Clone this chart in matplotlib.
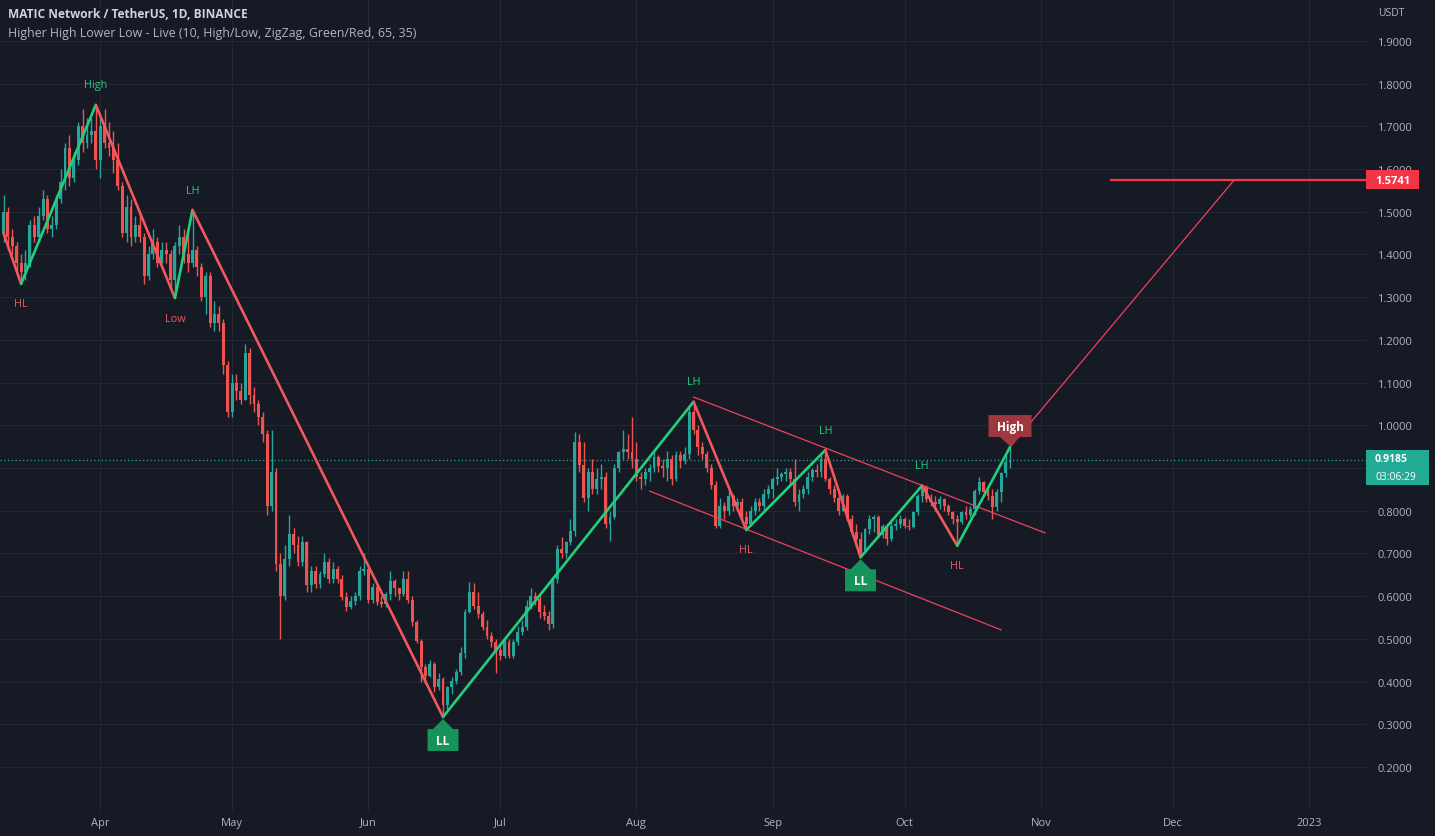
import matplotlib
matplotlib.use("Agg")
import matplotlib.pyplot as plt
import matplotlib.dates as mdates
from matplotlib.transforms import offset_copy, IdentityTransform
from matplotlib.patches import Rectangle, Polygon
import numpy as np
import pandas as pd

plt.rcParams['font.family'] = ['Open Sans', 'Noto Sans', 'DejaVu Sans']

# daily MATICUSDT candles, 2022-03-10 .. 2022-10-25 (open = previous close)
first_open = 1.45
closes = [1.50, 1.44, 1.42, 1.38, 1.36, 1.38, 1.47, 1.44, 1.49, 1.53,
          1.46, 1.47, 1.53, 1.57, 1.65, 1.58, 1.62, 1.70, 1.66, 1.68,
          1.69, 1.62, 1.70, 1.66, 1.65, 1.62, 1.56, 1.45, 1.51, 1.44,
          1.47, 1.44, 1.35, 1.40, 1.43, 1.38, 1.41, 1.40, 1.34, 1.42,
          1.44, 1.40, 1.38, 1.41, 1.37, 1.30, 1.35, 1.24, 1.26, 1.24,
          1.14, 1.03, 1.10, 1.08, 1.06, 1.17, 1.07, 1.05, 1.02, 0.98,
          0.81, 0.89, 0.675, 0.60, 0.687, 0.745, 0.72, 0.68, 0.726, 0.625,
          0.66, 0.628, 0.652, 0.68, 0.64, 0.664, 0.64, 0.597, 0.574, 0.589,
          0.60, 0.66, 0.664, 0.59, 0.621, 0.586, 0.582, 0.605, 0.636, 0.62,
          0.605, 0.64, 0.59, 0.539, 0.496, 0.433, 0.414, 0.441, 0.387, 0.406,
          0.344, 0.387, 0.402, 0.422, 0.468, 0.562, 0.609, 0.578, 0.558, 0.527,
          0.507, 0.492, 0.475, 0.461, 0.492, 0.461, 0.492, 0.515, 0.527, 0.578,
          0.601, 0.593, 0.562, 0.554, 0.535, 0.64, 0.71, 0.70, 0.726, 0.753,
          0.96, 0.906, 0.83, 0.89, 0.85, 0.874, 0.88, 0.77, 0.785, 0.90,
          0.937, 0.945, 0.937, 0.92, 0.88, 0.875, 0.89, 0.90, 0.925, 0.905,
          0.90, 0.92, 0.874, 0.93, 0.917, 0.933, 1.03, 0.99, 0.95, 0.933,
          0.90, 0.86, 0.765, 0.81, 0.80, 0.835, 0.81, 0.82, 0.785, 0.77,
          0.80, 0.82, 0.81, 0.84, 0.85, 0.875, 0.88, 0.886, 0.89, 0.875,
          0.82, 0.84, 0.85, 0.88, 0.895, 0.89, 0.92, 0.875, 0.85, 0.83,
          0.80, 0.835, 0.78, 0.75, 0.734, 0.70, 0.757, 0.78, 0.785, 0.742,
          0.765, 0.734, 0.765, 0.77, 0.78, 0.765, 0.762, 0.796, 0.835, 0.855,
          0.828, 0.82, 0.816, 0.828, 0.812, 0.796, 0.78, 0.773, 0.796, 0.789,
          0.804, 0.847, 0.867, 0.843, 0.835, 0.808, 0.843, 0.8875, 0.914, 0.9185]
highs = [1.54, 1.51, 1.46, 1.43, 1.40, 1.41, 1.48, 1.49, 1.51, 1.55,
         1.54, 1.49, 1.54, 1.60, 1.66, 1.68, 1.64, 1.71, 1.74, 1.72,
         1.72, 1.75, 1.72, 1.74, 1.71, 1.69, 1.66, 1.57, 1.54, 1.53,
         1.49, 1.50, 1.45, 1.42, 1.46, 1.44, 1.43, 1.43, 1.41, 1.43,
         1.47, 1.46, 1.45, 1.504, 1.42, 1.38, 1.36, 1.36, 1.29, 1.28,
         1.25, 1.15, 1.12, 1.12, 1.10, 1.19, 1.18, 1.09, 1.06, 1.03,
         0.99, 0.99, 0.90, 0.70, 0.72, 0.79, 0.76, 0.74, 0.74, 0.73,
         0.67, 0.67, 0.66, 0.70, 0.69, 0.68, 0.67, 0.65, 0.61, 0.60,
         0.61, 0.67, 0.70, 0.67, 0.63, 0.63, 0.60, 0.61, 0.66, 0.64,
         0.62, 0.66, 0.66, 0.60, 0.545, 0.50, 0.44, 0.45, 0.445, 0.42,
         0.41, 0.39, 0.41, 0.43, 0.48, 0.57, 0.633, 0.63, 0.61, 0.565,
         0.545, 0.515, 0.50, 0.49, 0.50, 0.50, 0.50, 0.53, 0.545, 0.59,
         0.62, 0.61, 0.60, 0.58, 0.565, 0.645, 0.72, 0.738, 0.73, 0.78,
         0.985, 0.98, 0.96, 0.90, 0.92, 0.90, 0.91, 0.89, 0.80, 0.91,
         0.94, 0.99, 0.98, 1.02, 0.96, 0.89, 0.90, 0.91, 0.94, 0.93,
         0.92, 0.94, 0.93, 0.94, 0.94, 0.95, 1.04, 1.055, 1.00, 0.96,
         0.94, 0.91, 0.87, 0.83, 0.82, 0.85, 0.84, 0.83, 0.83, 0.80,
         0.81, 0.83, 0.83, 0.85, 0.86, 0.88, 0.90, 0.89, 0.90, 0.90,
         0.92, 0.85, 0.86, 0.89, 0.90, 0.91, 0.93, 0.942, 0.88, 0.86,
         0.84, 0.84, 0.84, 0.79, 0.77, 0.75, 0.76, 0.79, 0.79, 0.79,
         0.77, 0.77, 0.78, 0.78, 0.79, 0.785, 0.78, 0.80, 0.84, 0.859,
         0.86, 0.84, 0.835, 0.835, 0.83, 0.815, 0.80, 0.79, 0.80, 0.81,
         0.81, 0.85, 0.88, 0.87, 0.85, 0.85, 0.85, 0.89, 0.93, 0.949]
lows = [1.43, 1.41, 1.40, 1.36, 1.331, 1.34, 1.37, 1.43, 1.43, 1.48,
        1.45, 1.44, 1.46, 1.52, 1.55, 1.56, 1.57, 1.61, 1.64, 1.65,
        1.66, 1.60, 1.58, 1.65, 1.63, 1.59, 1.55, 1.44, 1.43, 1.42,
        1.43, 1.43, 1.33, 1.34, 1.39, 1.37, 1.38, 1.38, 1.32, 1.298,
        1.40, 1.38, 1.36, 1.37, 1.35, 1.29, 1.26, 1.23, 1.22, 1.22,
        1.12, 1.02, 1.02, 1.06, 1.05, 1.06, 1.05, 1.03, 1.00, 0.96,
        0.79, 0.80, 0.66, 0.50, 0.59, 0.67, 0.70, 0.67, 0.67, 0.61,
        0.61, 0.62, 0.62, 0.645, 0.63, 0.63, 0.63, 0.59, 0.565, 0.57,
        0.58, 0.59, 0.65, 0.585, 0.585, 0.58, 0.575, 0.575, 0.59, 0.60,
        0.59, 0.60, 0.585, 0.53, 0.49, 0.40, 0.395, 0.41, 0.375, 0.38,
        0.317, 0.335, 0.37, 0.395, 0.415, 0.455, 0.56, 0.57, 0.55, 0.52,
        0.50, 0.48, 0.42, 0.45, 0.455, 0.455, 0.455, 0.485, 0.51, 0.52,
        0.57, 0.58, 0.55, 0.545, 0.52, 0.525, 0.63, 0.69, 0.69, 0.72,
        0.74, 0.89, 0.82, 0.80, 0.84, 0.84, 0.85, 0.76, 0.73, 0.78,
        0.89, 0.92, 0.92, 0.90, 0.87, 0.85, 0.86, 0.87, 0.89, 0.89,
        0.88, 0.87, 0.86, 0.87, 0.90, 0.91, 0.92, 0.98, 0.93, 0.92,
        0.89, 0.85, 0.76, 0.76, 0.78, 0.79, 0.80, 0.80, 0.78, 0.755,
        0.765, 0.79, 0.80, 0.80, 0.83, 0.83, 0.86, 0.87, 0.87, 0.86,
        0.81, 0.80, 0.83, 0.84, 0.87, 0.88, 0.88, 0.87, 0.84, 0.82,
        0.79, 0.80, 0.775, 0.74, 0.72, 0.691, 0.70, 0.745, 0.75, 0.735,
        0.735, 0.72, 0.73, 0.755, 0.76, 0.76, 0.755, 0.76, 0.79, 0.82,
        0.82, 0.81, 0.80, 0.805, 0.80, 0.79, 0.77, 0.718, 0.77, 0.78,
        0.785, 0.79, 0.84, 0.835, 0.825, 0.78, 0.80, 0.82, 0.88, 0.90]

# zigzag pivots and their labels
pivot_dates = ["2022-03-10", "2022-03-14", "2022-03-31", "2022-04-18", "2022-04-22",
               "2022-06-18", "2022-08-14", "2022-08-26", "2022-09-13", "2022-09-21",
               "2022-10-05", "2022-10-13", "2022-10-25"]
pivot_prices = [1.45, 1.331, 1.75, 1.298, 1.504, 0.317, 1.055, 0.755, 0.942, 0.691,
                0.859, 0.718, 0.949]
pivot_labels = ["", "HL", "High", "Low", "LH", "LL", "LH", "HL", "LH", "LL", "LH", "HL", "High"]
boxed = ["2022-06-18", "2022-09-21", "2022-10-25"]

# channel / projection lines (start date, start price, end date, end price)
upper_line = ["2022-08-14", 1.066, "2022-11-02", 0.748]
lower_line = ["2022-08-04", 0.846, "2022-10-23", 0.521]
proj_line = ["2022-10-25", 0.949, "2022-12-15", 1.5741]
target_start = "2022-11-17"
target_price = 1.5741

month_ticks = ["2022-04-01", "2022-05-01", "2022-06-01", "2022-07-01", "2022-08-01",
               "2022-09-01", "2022-10-01", "2022-11-01", "2022-12-01", "2023-01-01"]
month_labels = ["Apr", "May", "Jun", "Jul", "Aug", "Sep", "Oct", "Nov", "Dec", "2023"]
price_ticks = np.round(np.arange(0.2, 1.95, 0.1), 1)

BG = "#161a25"
GRID = "#232633"
TXT = "#b2b5be"
UP, DOWN = "#26a69a", "#ef5350"
ZG, ZR = "#22cf7e", "#f0585d"

W, H = 1435, 837
fig = plt.figure(figsize=(W / 100, H / 100), dpi=100, facecolor=BG)
ax = fig.add_axes([0, 25 / H, 1366 / W, 812 / H], facecolor=BG)
ax.set_xlim(mdates.datestr2num("2022-03-09") + 0.2, mdates.datestr2num("2023-01-14"))
ax.set_ylim(0.097, 1.998)

d = mdates.date2num(pd.date_range("2022-03-10", periods=len(closes), freq="D"))
c = np.array(closes)
o = np.array([first_open] + closes[:-1])
hi = np.maximum(np.array(highs), np.maximum(o, c))
lo = np.minimum(np.array(lows), np.minimum(o, c))
col = np.where(c >= o, UP, DOWN)

ax.vlines(d, lo, hi, colors=col, linewidth=1, zorder=3)
ax.bar(d, np.maximum(np.abs(c - o), 0.003), bottom=np.minimum(o, c), width=0.66,
       color=col, linewidth=0, zorder=4)

# current price line
ax.axhline(closes[-1], color=UP, lw=0.9, ls=(0, (1, 2)), zorder=2)

# channel lines
for ln in (upper_line, lower_line, proj_line):
    ax.plot(mdates.datestr2num([ln[0], ln[2]]), [ln[1], ln[3]], color="#f0425a", lw=0.9, zorder=5)
ax.plot([mdates.datestr2num(target_start), mdates.datestr2num("2023-02-01")],
        [target_price, target_price], color="#f23645", lw=1.6, zorder=5)

# zigzag
pd_num = mdates.datestr2num(pivot_dates)
for k in range(len(pd_num) - 1):
    clr = ZG if pivot_prices[k + 1] > pivot_prices[k] else ZR
    ax.plot(pd_num[k:k + 2], pivot_prices[k:k + 2], color=clr, lw=1.9,
            solid_capstyle="round", zorder=6)

ident = IdentityTransform()
for k, lab in enumerate(pivot_labels):
    if not lab:
        continue
    is_high = pivot_prices[k] > pivot_prices[k - 1]
    sign = 1 if is_high else -1
    if pivot_dates[k] in boxed:
        fc = "#15935a" if lab == "LL" else "#9f373e"
        px, py = ax.transData.transform((pd_num[k], pivot_prices[k]))
        hw = 21.5 if lab == "High" else 15.5
        t0, t1, t2 = (1, 10, 32) if is_high else (2, 12, 34)
        pts = [(0, t0), (10, t1), (hw, t1), (hw, t2), (-hw, t2), (-hw, t1), (-10, t1)]
        pts = [(px + a, py + sign * b) for a, b in pts]
        fig.add_artist(Polygon(pts, closed=True, fc=fc, ec="none", transform=ident, zorder=7))
        fig.text(px, py + sign * (t1 + t2) / 2, lab, transform=ident, ha="center", va="center",
                 color="white", fontsize=8.5, fontweight="bold", zorder=8)
    else:
        tr = offset_copy(ax.transData, fig=fig, y=sign * 20, units="dots")
        ax.text(pd_num[k], pivot_prices[k], lab, transform=tr, ha="center", va="center",
                color=ZG if is_high else ZR, fontsize=7.8, zorder=8)

# axes (0.9000 sits under the last-price badge, so its label is left blank)
ax.set_xticks(mdates.datestr2num(month_ticks))
ax.set_xticklabels(month_labels)
ax.set_yticks(price_ticks)
ax.set_yticklabels(["" if p == 0.9 else f"{p:.4f}" for p in price_ticks])
ax.yaxis.tick_right()
ax.tick_params(axis="both", length=0, colors=TXT, labelsize=8)
ax.tick_params(axis="y", pad=8)
ax.tick_params(axis="x", pad=4)
ax.grid(True, color=GRID, lw=0.8)
ax.set_axisbelow(True)
for s in ax.spines.values():
    s.set_visible(False)

# price scale badges
ty = 837 - ax.transData.transform((0, target_price))[1]
fig.add_artist(Rectangle((1366 / W, 1 - (ty + 9) / H), 53 / W, 19 / H,
                         transform=fig.transFigure, fc="#f23645", ec="none"))
fig.text(1375 / W, 1 - ty / H, f"{target_price:.4f}", color="white", fontsize=8,
         fontweight="bold", va="center")
fig.add_artist(Rectangle((1366 / W, 1 - 486 / H), 63 / W, 35 / H, transform=fig.transFigure,
                         fc="#22ab94", ec="none"))
fig.text(1375 / W, 1 - 459.5 / H, f"{closes[-1]:.4f}", color="white", fontsize=7.6,
         fontweight="bold", va="center")
fig.text(1375 / W, 1 - 477 / H, "03:06:29", color="white", fontsize=7.4, va="center")
fig.text(1378 / W, 1 - 14 / H, "USDT", color=TXT, fontsize=7.5, va="center")

# header
fig.text(8 / W, 1 - 15 / H, "MATIC Network / TetherUS, 1D, BINANCE", color="#d1d4dc",
         fontsize=8.6, fontweight="bold", va="center")
fig.text(8 / W, 1 - 33 / H, "Higher High Lower Low - Live (10, High/Low, ZigZag, Green/Red, 65, 35)",
         color=TXT, fontsize=8.9, va="center")

fig.savefig("out.png", dpi=100, facecolor=BG)
